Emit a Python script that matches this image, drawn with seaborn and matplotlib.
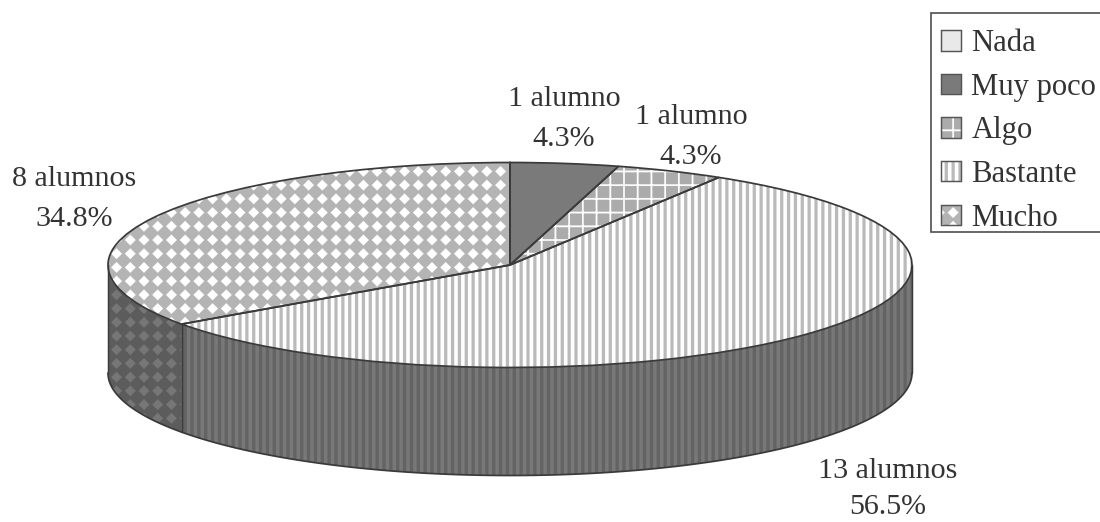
import numpy as np
import matplotlib
matplotlib.use("Agg")
import matplotlib.pyplot as plt
import matplotlib.hatch as mhatch
from matplotlib.legend_handler import HandlerTuple
from matplotlib.patches import Patch, Rectangle
from matplotlib.path import Path
import seaborn as sns

categories = ["Nada", "Muy poco", "Algo", "Bastante", "Mucho"]
students = [0, 1, 1, 13, 8]

top_colors = ["#e9e9e9", "#7a7a7a", "#ababab", "#bababa", "#b4b4b4"]
wall_colors = ["#8a8a8a", "#555555", "#5e5e5e", "#636363", "#5c5c5c"]
wall_hatch_colors = ["#8a8a8a", "#555555", "#7a7a7a", "#787878", "#767676"]
hatches = ["", "", "+", "|", "o"]
INK = "#3a3a3a"


def fill_rect(verts, codes, x0, y0, x1, y1):
    verts[:] = [(x0, y0), (x1, y0), (x1, y1), (x0, y1), (x0, y0)]
    codes[:] = [Path.MOVETO, Path.LINETO, Path.LINETO, Path.LINETO, Path.CLOSEPOLY]


class Stripes(mhatch.HatchPatternBase):
    """Vertical bands, fourteen to a hatch tile."""
    count = 14
    width = 0.036

    def __init__(self, hatch, density):
        self.num_vertices = 5 * self.count * hatch.count("|")

    def set_vertices_and_codes(self, vertices, codes):
        for i in range(self.num_vertices // 5):
            x = (i + 0.5) / self.count
            fill_rect(vertices[i * 5:i * 5 + 5], codes[i * 5:i * 5 + 5],
                      x - self.width / 2, 0, x + self.width / 2, 1)


class Lattice(mhatch.HatchPatternBase):
    """Thin crossing bars, seven each way to a tile."""
    count = 7
    width = 0.017

    def __init__(self, hatch, density):
        self.num_vertices = 10 * self.count * hatch.count("+")

    def set_vertices_and_codes(self, vertices, codes):
        half = self.width / 2
        for i in range(self.num_vertices // 10):
            p = (i + 0.5) / self.count
            k = i * 10
            fill_rect(vertices[k:k + 5], codes[k:k + 5], p - half, 0, p + half, 1)
            fill_rect(vertices[k + 5:k + 10], codes[k + 5:k + 10], 0, p - half, 1, p + half)


class Diamonds(mhatch.HatchPatternBase):
    """Filled diamonds on a square 7x7 grid."""
    count = 7
    half = 0.056

    def __init__(self, hatch, density):
        self.num_vertices = 5 * self.count ** 2 * hatch.count("o")

    def set_vertices_and_codes(self, vertices, codes):
        if not self.num_vertices:
            return
        k = 0
        for i in range(self.count):
            for j in range(self.count):
                cx, cy = (i + 0.5) / self.count, (j + 0.5) / self.count
                d = self.half
                vertices[k:k + 5] = [(cx - d, cy), (cx, cy - d), (cx + d, cy),
                                     (cx, cy + d), (cx - d, cy)]
                codes[k:k + 5] = [Path.MOVETO, Path.LINETO, Path.LINETO,
                                  Path.LINETO, Path.CLOSEPOLY]
                k += 5


mhatch._hatch_types[:] = [Stripes, Lattice, Diamonds]

sns.set_theme(style="white")
plt.rcParams["font.family"] = ["Liberation Serif", "DejaVu Serif"]
plt.rcParams["hatch.linewidth"] = 0.1

W, H, DPI = 1100, 522, 96
CX, CY, RX, RY, DEPTH = 510, 265, 402, 102.5, 108

fig = plt.figure(figsize=(W / DPI, H / DPI), dpi=DPI)
ax = fig.add_axes([0, 0, 1, 1])

# Top face: hatched wedges first, a second unfilled pass for the outlines.
wedges, _ = ax.pie(students, colors=top_colors, startangle=90, counterclock=False,
                   radius=1, wedgeprops=dict(edgecolor="white", linewidth=0))
for wedge, h in zip(wedges, hatches):
    wedge.set_hatch(h or None)
    wedge.set_zorder(3)
outlines, _ = ax.pie(students, startangle=90, counterclock=False, radius=1,
                     wedgeprops=dict(fill=False, edgecolor=INK, linewidth=1.3))
for outline in outlines:
    outline.set_zorder(4)

# One unit of the vertical axis is RY pixels, so the disc reads as a tilted circle.
ax.set_aspect("auto")
ax.set_xlim(-CX / RX, (W - CX) / RX)
ax.set_ylim(-(H - CY) / RY, CY / RY)
ax.axis("off")

# Side wall: only the part of each slice facing the viewer (angles -180..0).
depth = DEPTH / RY
shares = np.array(students) / sum(students)
edges = 90 - 360 * np.concatenate([[0], np.cumsum(shares)])
for k, (a0, a1) in enumerate(zip(edges[:-1], edges[1:])):
    hi, lo = min(a0, 0), max(a1, -180)
    if hi <= lo:
        continue
    t = np.radians(np.linspace(lo, hi, 120))
    xs, ys = np.cos(t), np.sin(t)
    ax.fill(np.r_[xs, xs[::-1]], np.r_[ys, ys[::-1] - depth],
            facecolor=wall_colors[k], edgecolor=wall_hatch_colors[k],
            hatch=hatches[k] or None, linewidth=0, zorder=2)
    ax.plot(xs, ys - depth, color=INK, lw=1.3, zorder=3)
    ax.plot([xs[0], xs[0]], [ys[0], ys[0] - depth], color=INK, lw=1.1, zorder=3)
    ax.plot([xs[-1], xs[-1]], [ys[-1], ys[-1] - depth], color=INK, lw=1.1, zorder=3)

# Slice captions, one for each slice that has students; the lowest one is set
# tighter so that it stays inside the figure.
caption_layout = {1: (564, 119, 1.7), 2: (691, 137, 1.7),
                  3: (888, 489, 1.55), 4: (74, 199, 1.7)}
for k, (cx, cy, spacing) in caption_layout.items():
    noun = "alumno" if students[k] == 1 else "alumnos"
    fig.text(cx / W, 1 - cy / H, f"{students[k]} {noun}\n{shares[k] * 100:.1f}%",
             ha="center", va="center", ma="center", fontsize=22.5,
             color="#333333", linespacing=spacing)

# Legend frame runs off the right side of the figure.
fig.add_artist(Rectangle((931 / W, 1 - 232 / H), 200 / W, 219 / H,
                         transform=fig.transFigure, facecolor="white",
                         edgecolor="#555555", linewidth=1.3, zorder=1))
handles = [(Patch(facecolor=c, edgecolor="white", hatch=h or None, linewidth=0),
            Patch(fill=False, edgecolor="#555555", linewidth=1.1))
           for c, h in zip(top_colors, hatches)]
fig.legend(handles, categories, loc="upper left",
           bbox_to_anchor=(926 / W, 1 - 14 / H), frameon=False,
           fontsize=23, labelcolor="#333333",
           handler_map={tuple: HandlerTuple(ndivide=1, pad=0)},
           handlelength=0.65, handleheight=0.65, handletextpad=0.33,
           labelspacing=0.475, borderpad=0.5, borderaxespad=0, columnspacing=0)

fig.savefig("out.png", dpi=DPI, facecolor="white")
